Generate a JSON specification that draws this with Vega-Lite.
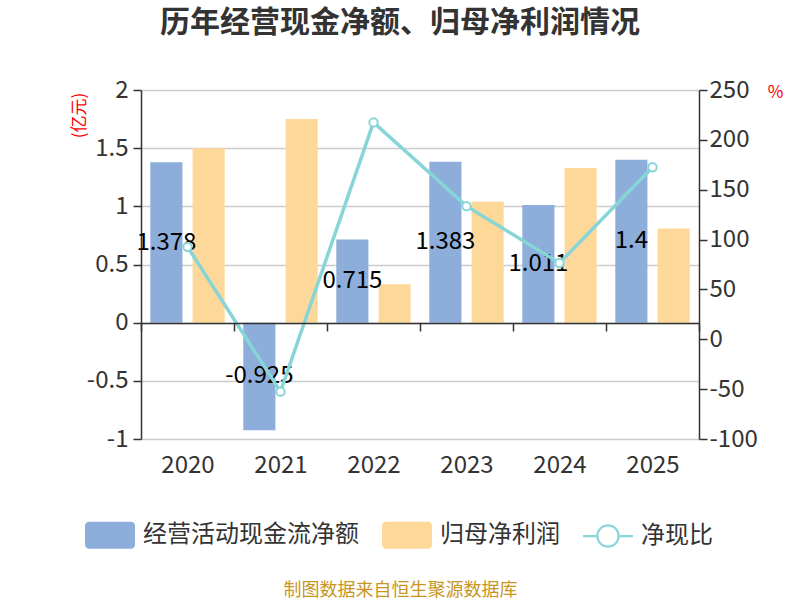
{
  "$schema": "https://vega.github.io/schema/vega-lite/v6.json",
  "description": "历年经营现金净额、归母净利润情况",
  "width": 558,
  "height": 349,
  "autosize": {"type": "none"},
  "padding": {"left": 141, "top": 90, "right": 101, "bottom": 161},
  "background": "white",
  "config": {"font": "Noto Sans CJK SC", "view": {"stroke": null}},
  "title": {
    "text": "历年经营现金净额、归母净利润情况",
    "anchor": "middle",
    "frame": "group",
    "baseline": "bottom",
    "offset": 10,
    "dx": -20,
    "fontSize": 30,
    "fontWeight": "bold",
    "color": "#333333"
  },
  "datasets": {
    "bars": [
      {"year": "2020", "series": "经营活动现金流净额", "value": 1.378},
      {"year": "2020", "series": "归母净利润", "value": 1.5},
      {"year": "2021", "series": "经营活动现金流净额", "value": -0.925},
      {"year": "2021", "series": "归母净利润", "value": 1.75},
      {"year": "2022", "series": "经营活动现金流净额", "value": 0.715},
      {"year": "2022", "series": "归母净利润", "value": 0.33},
      {"year": "2023", "series": "经营活动现金流净额", "value": 1.383},
      {"year": "2023", "series": "归母净利润", "value": 1.04},
      {"year": "2024", "series": "经营活动现金流净额", "value": 1.011},
      {"year": "2024", "series": "归母净利润", "value": 1.33},
      {"year": "2025", "series": "经营活动现金流净额", "value": 1.4},
      {"year": "2025", "series": "归母净利润", "value": 0.81}
    ],
    "ratio": [
      {"year": "2020", "ratio": 92.7},
      {"year": "2021", "ratio": -52.5},
      {"year": "2022", "ratio": 217.5},
      {"year": "2023", "ratio": 133.5},
      {"year": "2024", "ratio": 76.5},
      {"year": "2025", "ratio": 172.5}
    ]
  },
  "layer": [
    {
      "layer": [
        {
          "data": {"name": "bars"},
          "mark": {"type": "bar"},
          "encoding": {
            "x": {
              "field": "year",
              "type": "ordinal",
              "scale": {"paddingInner": 0, "paddingOuter": 0},
              "axis": {
                "offset": -116,
                "zindex": 1,
                "grid": false,
                "domainColor": "#333333",
                "domainWidth": 1.5,
                "tickColor": "#333333",
                "tickWidth": 1.5,
                "tickSize": 8,
                "tickBand": "extent",
                "labelAngle": 0,
                "labelFontSize": 24,
                "labelColor": "#333333",
                "labelPadding": 122,
                "title": "制图数据来自恒生聚源数据库",
                "titleFontSize": 18,
                "titleFontWeight": "normal",
                "titleColor": "#C8961E",
                "titleX": 259,
                "titleY": 267,
                "titleAlign": "center",
                "titleBaseline": "middle"
              }
            },
            "xOffset": {
              "field": "series",
              "type": "nominal",
              "scale": {"domain": ["经营活动现金流净额", "归母净利润"], "paddingInner": 0.24, "paddingOuter": 0.22}
            },
            "y": {
              "field": "value",
              "type": "quantitative",
              "scale": {"domain": [-1, 2], "nice": false, "zero": false},
              "axis": {
                "orient": "left",
                "values": [-1, -0.5, 0, 0.5, 1, 1.5, 2],
                "zindex": 0,
                "grid": true,
                "gridColor": "#cccccc",
                "gridWidth": 1.5,
                "domainColor": "#333333",
                "domainWidth": 1.5,
                "tickColor": "#333333",
                "tickWidth": 1.5,
                "tickSize": 8,
                "labelFontSize": 24,
                "labelColor": "#333333",
                "labelPadding": 5,
                "labelExpr": "replace(format(datum.value, '~g'), '−', '-')",
                "title": "(亿元)",
                "titleFontSize": 17,
                "titleFontWeight": "normal",
                "titleColor": "#FF0000",
                "titleAngle": -90,
                "titleX": -62,
                "titleY": 25,
                "titleAlign": "center",
                "titleBaseline": "middle"
              }
            },
            "color": {
              "field": "series",
              "type": "nominal",
              "scale": {
                "domain": ["经营活动现金流净额", "归母净利润", "净现比"],
                "range": ["#8DADDB", "#FED899", "#88D5D8"]
              },
              "legend": {
                "orient": "none",
                "legendX": -56,
                "legendY": 420,
                "direction": "horizontal",
                "title": null,
                "padding": 0,
                "symbolSize": 2500,
                "symbolStrokeWidth": 0,
                "labelFontSize": 24,
                "labelColor": "#333333",
                "labelOffset": 8,
                "labelLimit": 400,
                "columnPadding": 23,
                "encode": {
                  "symbols": {
                    "update": {
                      "shape": {"signal": "datum.value === '净现比' ? 'M-1,-0.045L-0.43,-0.045L-0.43,0.045L-1,0.045ZM0.43,-0.045L1,-0.045L1,0.045L0.43,0.045ZM0.47,0A0.47,0.47 0 1 1 -0.47,0A0.47,0.47 0 1 1 0.47,0ZM0.38,0A0.38,0.38 0 1 0 -0.38,0A0.38,0.38 0 1 0 0.38,0Z' : 'M-0.84,-0.54L0.84,-0.54A0.16,0.16 0 0 1 1,-0.38L1,0.38A0.16,0.16 0 0 1 0.84,0.54L-0.84,0.54A0.16,0.16 0 0 1 -1,0.38L-1,-0.38A0.16,0.16 0 0 1 -0.84,-0.54Z'"},
                      "opacity": {"value": 1}
                    }
                  }
                }
              }
            }
          }
        },
        {
          "data": {"name": "bars"},
          "transform": [
            {"filter": "datum.series === '经营活动现金流净额'"},
            {"calculate": "datum.value / 2", "as": "mid"}
          ],
          "mark": {"type": "text", "fontSize": 24, "color": "#000000", "align": "center", "baseline": "middle"},
          "encoding": {
            "x": {"field": "year", "type": "ordinal"},
            "xOffset": {"field": "series", "type": "nominal"},
            "y": {"field": "mid", "type": "quantitative"},
            "text": {"field": "value", "type": "nominal"}
          }
        }
      ]
    },
    {
      "layer": [
        {
          "data": {"name": "ratio"},
          "mark": {"type": "line", "strokeWidth": 3.5},
          "encoding": {
            "x": {"field": "year", "type": "ordinal"},
            "y": {
              "field": "ratio",
              "type": "quantitative",
              "scale": {"domain": [-100, 250], "nice": false, "zero": false},
              "axis": {
                "orient": "right",
                "values": [-100, -50, 0, 50, 100, 150, 200, 250],
                "grid": false,
                "domainColor": "#333333",
                "domainWidth": 1.5,
                "tickColor": "#333333",
                "tickWidth": 1.5,
                "tickSize": 8,
                "labelFontSize": 24,
                "labelColor": "#333333",
                "labelPadding": 2,
                "labelExpr": "replace(format(datum.value, '~g'), '−', '-')",
                "title": "%",
                "titleFontSize": 17,
                "titleFontWeight": "normal",
                "titleColor": "#FF0000",
                "titleAngle": 0,
                "titleX": 76,
                "titleY": 2,
                "titleAlign": "center",
                "titleBaseline": "middle"
              }
            },
            "color": {"datum": "净现比", "type": "nominal"}
          }
        },
        {
          "data": {"name": "ratio"},
          "mark": {"type": "point", "filled": true, "fill": "white", "stroke": "#88D5D8", "strokeWidth": 2, "size": 70, "opacity": 1},
          "encoding": {
            "x": {"field": "year", "type": "ordinal"},
            "y": {"field": "ratio", "type": "quantitative", "axis": {"orient": "right"}}
          }
        }
      ]
    }
  ],
  "resolve": {"scale": {"y": "independent"}}
}
